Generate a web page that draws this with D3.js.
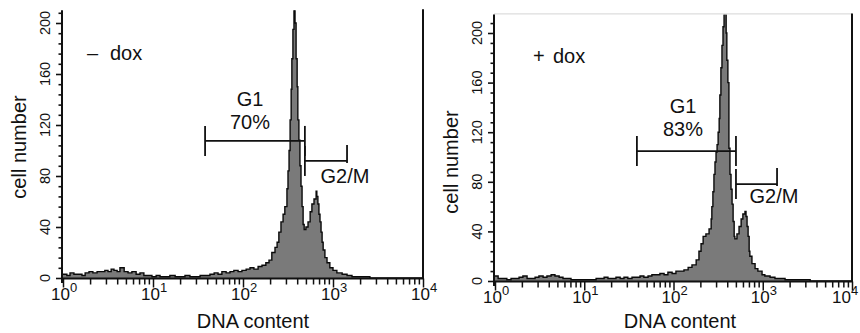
<!DOCTYPE html>
<html><head><meta charset="utf-8">
<script src="https://cdn.jsdelivr.net/npm/d3@7"></script>
<style>
body{margin:0;background:#fff}
svg{display:block}
text{font-family:Arial,"Liberation Sans",Helvetica,sans-serif;fill:#111}
</style>
</head><body>
<svg id="chart" width="860" height="333"></svg>
<script>
// ---------- data ----------
const channelsPerDecade = 256;               // FACS log channels: DNA content = 10^(channel/256)
const xDecades = [0, 1, 2, 3, 4];            // tick labels 10^0 ... 10^4
const yMajorTicks = [0, 40, 80, 120, 160, 200];
const yMinorStep = 8;

// "- dox" histogram (channel start of each step, cell count)
const leftChannel = [0,11,20,31,43,54,63,74,85,97,108,119,128,137,145,154,162,174,185,196,208,219,230,242,253,265,276,290,304,319,333,347,361,375,390,404,418,430,441,452,464,475,486,498,509,
  521,532,543,555,566,577,586,594,603,609,614,620,626,631,637,640,643,646,649,651,654,657,660,663,666,668,671,674,677,680,683,686,691,697,703,708,714,720,722,725,728,731,734,737,740,745,751,759,768,779,794,808,822,873,1023];
const leftCount = [3,2,4,3,3,2,4,5,4,5,5,6,5,7,6,5,8,5,4,5,3,4,2,2,1,2,1,1,2,1,1,2,1,1,2,2,3,4,3,5,4,5,6,5,6,
  7,8,7,9,10,12,14,20,24,28,36,44,50,56,70,84,100,124,148,172,195,212,200,172,150,124,108,88,72,56,42,38,40,44,52,58,62,68,64,58,50,44,36,28,22,16,12,8,6,4,3,2,1,0,0];

// "+ dox" histogram
const rightChannel = [0,9,23,34,46,57,69,80,92,103,115,126,138,149,161,172,184,195,207,218,232,247,261,275,290,301,313,324,336,347,359,370,381,393,404,416,427,439,450,462,473,485,496,508,519,531,542,554,565,577,
  585,591,597,605,614,620,622,625,628,631,634,637,640,643,645,648,651,654,657,663,665,668,671,674,677,680,683,686,688,694,700,706,711,717,720,723,726,729,731,737,746,754,766,774,789,803,832,875,904,1023];
const rightCount = [4,2,2,1,2,2,3,4,2,2,3,4,3,4,5,4,3,2,2,1,1,1,1,1,2,2,3,2,2,3,2,3,2,3,3,4,3,4,5,5,6,5,7,6,8,8,9,11,13,17,
  24,30,36,38,42,50,60,72,86,96,104,110,120,131,150,172,190,205,216,200,178,160,107,86,74,62,48,36,34,38,44,50,54,56,52,44,36,24,20,14,10,8,5,4,3,2,1,1,0,0];

// gate markers (DNA content range, cell-count level)
const leftMarkerNames = ["G1", "G2/M"];
const leftMarkerLo = [37.9, 487];
const leftMarkerHi = [487, 1432];
const leftMarkerLevel = [107.5, 91.8];
const leftG1Percent = "70%";

const rightMarkerNames = ["G1", "G2/M"];
const rightMarkerLo = [38.9, 501];
const rightMarkerHi = [501, 1446];
const rightMarkerLevel = [104.8, 78.2];
const rightG1Percent = "83%";

// ---------- drawing ----------
const svg = d3.select("#chart");
const W = 860;

function panel(cfg) {
  const g = svg.append("g");
  const clipId = "clip" + cfg.id;
  svg.append("clipPath").attr("id", clipId).append("rect")
    .attr("x", cfg.x0 - 60).attr("y", cfg.clipTop).attr("width", 440).attr("height", 340);
  g.attr("clip-path", `url(#${clipId})`);

  const x = d3.scaleLog().domain([1, 1e4]).range([cfg.x0, cfg.x1]);
  const y = d3.scaleLinear().domain([0, cfg.yMax]).range([cfg.y0, cfg.y0 - cfg.pxPerCount * cfg.yMax]);
  const yTopPx = y(cfg.yMax);

  const pts = cfg.channel.map((c, i) => ({dna: Math.pow(10, c / channelsPerDecade), n: cfg.count[i]}));
  const plotClip = "pc" + cfg.id;
  svg.append("clipPath").attr("id", plotClip).append("rect")
    .attr("x", cfg.x0 - 2).attr("y", yTopPx).attr("width", cfg.x1 - cfg.x0 + 2).attr("height", cfg.y0 - yTopPx + 2);

  const hg = g.append("g").attr("clip-path", `url(#${plotClip})`);
  hg.append("path").datum(pts)
    .attr("d", d3.area().x(d => x(d.dna)).y0(y(0)).y1(d => y(d.n)).curve(d3.curveStepAfter))
    .attr("fill", "#7a7a7a");
  hg.append("path").datum(pts)
    .attr("d", d3.line().x(d => x(d.dna)).y(d => y(d.n)).curve(d3.curveStepAfter))
    .attr("fill", "none").attr("stroke", "#0a0a0a").attr("stroke-width", 1.4).attr("stroke-linejoin", "miter");

  // frame
  if (cfg.topLine) {
    g.append("line").attr("x1", cfg.x0 - 1).attr("x2", cfg.x1).attr("y1", yTopPx - 0.5).attr("y2", yTopPx - 0.5)
      .attr("stroke", "#d4d4d4").attr("stroke-width", 1);
  }
  g.append("line").attr("x1", cfg.x1).attr("x2", cfg.x1).attr("y1", yTopPx - 1).attr("y2", y(0) + 1)
    .attr("stroke", "#111").attr("stroke-width", 2);
  g.append("line").attr("x1", cfg.x0 - 1).attr("x2", cfg.x1 + 1).attr("y1", y(0) + 0.5).attr("y2", y(0) + 0.5)
    .attr("stroke", "#111").attr("stroke-width", 2);
  g.append("line").attr("x1", cfg.x0 - 1).attr("x2", cfg.x0 - 1).attr("y1", yTopPx).attr("y2", y(0) + 5)
    .attr("stroke", "#111").attr("stroke-width", 2);

  // y ticks
  const minor = d3.range(0, cfg.yMax + 0.01, yMinorStep).filter(v => yMajorTicks.indexOf(v) < 0);
  const yMaj = g.append("g").attr("transform", `translate(${cfg.x0 - 1},0)`)
    .call(d3.axisLeft(y).tickValues(yMajorTicks).tickSize(6).tickFormat(""));
  const yMin = g.append("g").attr("transform", `translate(${cfg.x0 - 1},0)`)
    .call(d3.axisLeft(y).tickValues(minor).tickSize(3.5).tickFormat(""));
  [yMaj, yMin].forEach(a => { a.select(".domain").remove(); a.selectAll("line").attr("stroke", "#111").attr("stroke-width", 1.6); });
  g.selectAll(".ylab").data(yMajorTicks).join("text")
    .attr("transform", d => `translate(${cfg.x0 - 13},${y(d)}) rotate(-90)`)
    .attr("text-anchor", "middle").style("font-size", "14.5px").text(d => d);

  // x ticks
  const xMinor = [];
  xDecades.slice(0, -1).forEach(k => { for (let m = 2; m <= 9; m++) xMinor.push(m * Math.pow(10, k)); });
  const xMaj = g.append("g").attr("transform", `translate(0,${y(0) + 0.5})`)
    .call(d3.axisBottom(x).tickValues(xDecades.map(k => Math.pow(10, k))).tickSize(9).tickFormat(""));
  const xMin = g.append("g").attr("transform", `translate(0,${y(0) + 0.5})`)
    .call(d3.axisBottom(x).tickValues(xMinor).tickSize(6).tickFormat(""));
  [xMaj, xMin].forEach(a => { a.select(".domain").remove(); a.selectAll("line").attr("stroke", "#111").attr("stroke-width", 1.5); });
  const xl = g.selectAll(".xlab").data(xDecades).join("text")
    .attr("x", d => Math.min(x(Math.pow(10, d)) - 12, W - 28)).attr("y", cfg.xLabBase).style("font-size", "17px");
  xl.append("tspan").text("10");
  xl.append("tspan").attr("dy", -8).style("font-size", "13px").text(d => d);

  // axis titles
  g.append("text").attr("x", cfg.xTitleX).attr("y", cfg.xTitleY).attr("text-anchor", "middle")
    .style("font-size", "20px").text("DNA content");
  g.append("text").attr("transform", `translate(${cfg.x0 - 37},${cfg.yTitleY}) rotate(-90)`)
    .attr("text-anchor", "middle").style("font-size", "20px").text("cell number");

  // treatment label
  g.append("text").attr("x", cfg.signX).attr("y", cfg.doxY).style("font-size", "20px").text(cfg.sign);
  g.append("text").attr("x", cfg.doxX).attr("y", cfg.doxY).style("font-size", "20px").text("dox");

  // markers
  cfg.mNames.forEach((nm, i) => {
    const lo = x(cfg.mLo[i]), hi = x(cfg.mHi[i]), lv = y(cfg.mLevel[i]);
    const mk = g.append("g").attr("stroke", "#111").attr("stroke-width", 1.8);
    mk.append("line").attr("x1", lo).attr("x2", hi).attr("y1", lv).attr("y2", lv);
    mk.append("line").attr("x1", lo).attr("x2", lo).attr("y1", lv - 15).attr("y2", lv + 15);
    if (i === 0) mk.append("line").attr("x1", hi).attr("x2", hi).attr("y1", lv - 15).attr("y2", lv + 15);
    else mk.append("line").attr("x1", hi).attr("x2", hi).attr("y1", lv - 16).attr("y2", lv + 2);
  });
  g.append("text").attr("x", cfg.g1X).attr("y", cfg.g1Y).attr("text-anchor", "middle").style("font-size", "20px").text(cfg.mNames[0]);
  g.append("text").attr("x", cfg.g1X).attr("y", cfg.g1Y + 23).attr("text-anchor", "middle").style("font-size", "20px").text(cfg.pct);
  g.append("text").attr("x", cfg.g2X).attr("y", cfg.g2Y).attr("text-anchor", "middle").style("font-size", "20px").text(cfg.mNames[1]);
}

panel({id: "L", x0: 63, x1: 423, y0: 278, pxPerCount: 1.275, yMax: 210, clipTop: 9, topLine: false,
  channel: leftChannel, count: leftCount, xLabBase: 300, xTitleX: 253, xTitleY: 328, yTitleY: 147,
  sign: "\u2013", signX: 87, doxX: 110, doxY: 60,
  mNames: leftMarkerNames, mLo: leftMarkerLo, mHi: leftMarkerHi, mLevel: leftMarkerLevel, pct: leftG1Percent,
  g1X: 250, g1Y: 106, g2X: 345, g2Y: 183});

panel({id: "R", x0: 495, x1: 852, y0: 281, pxPerCount: 1.24, yMax: 215, clipTop: 0, topLine: true,
  channel: rightChannel, count: rightCount, xLabBase: 303, xTitleX: 680, xTitleY: 328, yTitleY: 162,
  sign: "+", signX: 533, doxX: 553, doxY: 63,
  mNames: rightMarkerNames, mLo: rightMarkerLo, mHi: rightMarkerHi, mLevel: rightMarkerLevel, pct: rightG1Percent,
  g1X: 683, g1Y: 113, g2X: 774, g2Y: 203});
</script>
</body></html>
